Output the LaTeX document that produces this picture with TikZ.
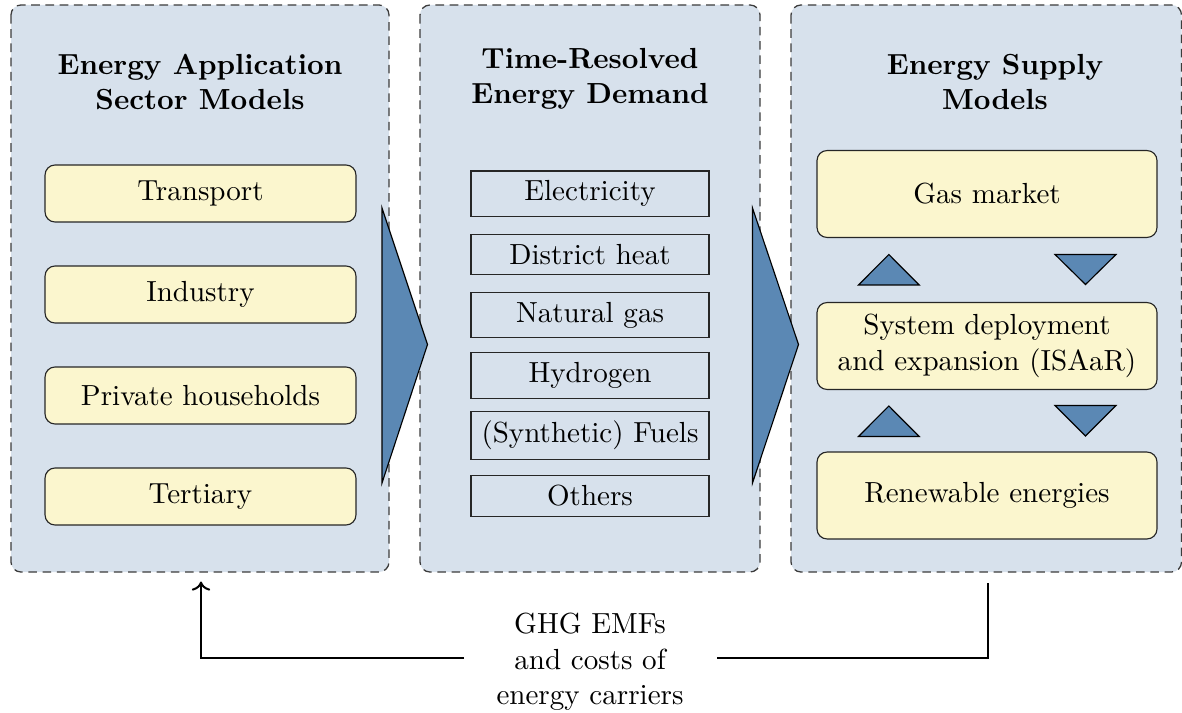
\documentclass[tikz,border=0pt]{standalone}
\usetikzlibrary{arrows.meta}

\definecolor{panelblue}{RGB}{215,225,236}
\definecolor{boxyellow}{RGB}{251,246,206}
\definecolor{flowblue}{RGB}{91,136,180}
\definecolor{framegray}{RGB}{60,60,60}

\newcommand{\diagfont}{\fontsize{10.2}{12.4}\selectfont}

\tikzset{
  panel/.style={draw=framegray, densely dashed, fill=panelblue, rounded corners=3.5pt, line width=0.45pt},
  paneltitle/.style={font=\diagfont\bfseries, align=center},
  sectorbox/.style={draw=black!85, fill=boxyellow, rounded corners=3.5pt,
    minimum width=109.1pt, minimum height=20pt, inner sep=0pt},
  carrierbox/.style={draw=black!85, fill=panelblue, minimum width=83.5pt,
    inner xsep=2pt, inner ysep=3.4pt},
  supplybox/.style={draw=black!85, fill=boxyellow, rounded corners=3.5pt,
    minimum width=119.3pt, minimum height=30.5pt, inner sep=0pt, align=center},
  flowarrow/.style={draw=black, fill=flowblue, line width=0.4pt, line join=miter},
  feedback/.style={draw=black, line width=0.7pt},
}

\begin{document}
\begin{tikzpicture}[x=0.3509pt, y=-0.3509pt, font=\diagfont]
  \useasboundingbox (0,0) rectangle (1182,713);

  % three model panels
  \draw[panel] (11,5) rectangle (389,572);
  \draw[panel] (420,5) rectangle (760,572);
  \draw[panel] (791,5) rectangle (1181.5,572);

  \node[paneltitle] (t1) at (200,82) {Energy Application\\Sector Models};
  \node[paneltitle] (t2) at (590,79) {Time-Resolved\\Energy Demand};
  \node[paneltitle] (t3) at (995,82) {Energy Supply\\Models};

  % energy application sectors
  \node[sectorbox] (transport) at (200.5,193.5) {Transport};
  \node[sectorbox] (industry)  at (200.5,294.5) {Industry};
  \node[sectorbox] (private)   at (200.5,395.5) {Private households};
  \node[sectorbox] (tertiary)  at (200.5,496.5) {Tertiary};

  % energy carriers
  \node[carrierbox] (elec)  at (590,193.8) {Electricity};
  \node[carrierbox] (heat)  at (590,254.3) {District heat};
  \node[carrierbox] (ngas)  at (590,315)   {Natural gas};
  \node[carrierbox] (hydro) at (590,375.5) {Hydrogen};
  \node[carrierbox] (fuels) at (590,435.7) {(Synthetic) Fuels};
  \node[carrierbox] (other) at (590,496)   {Others};

  % supply models
  \node[supplybox] (gas) at (987,194) {Gas market};
  \node[supplybox] (isaar) at (987,346) {System deployment\\and expansion (ISAaR)};
  \node[supplybox] (res) at (987,495.5) {Renewable energies};

  % flow arrows between panels
  \path[flowarrow] (382,208) -- (427.5,344.5) -- (382,483) -- cycle;
  \path[flowarrow] (752.5,208) -- (798.5,344.5) -- (752.5,483) -- cycle;

  % exchange between supply models
  \path[flowarrow] (858.5,285) -- (888.8,254.5) -- (919.2,285) -- cycle;
  \path[flowarrow] (1055,254.5) -- (1116,254.5) -- (1085.5,284.5) -- cycle;
  \path[flowarrow] (858.5,436.5) -- (888.8,406) -- (919.2,436.5) -- cycle;
  \path[flowarrow] (1055,405.5) -- (1116,405.5) -- (1085.5,436) -- cycle;

  % feedback loop
  \node[align=center, inner sep=0pt] (fb) at (590,662) {GHG EMFs\\and costs of\\energy carriers};
  \coordinate (p3out) at (988,583);
  \coordinate (p1in) at (201,581.5);
  \coordinate (fbr) at (988,658);
  \coordinate (fbl) at (201,658);
  \coordinate (fbrin) at (717,658);
  \coordinate (fblin) at (464,658);
  \draw[feedback] (p3out) -- (fbr) -- (fbrin);
  \draw[feedback, -{To[length=3.2pt,width=6.5pt]}] (fblin) -- (fbl) -- (p1in);
\end{tikzpicture}
\end{document}
